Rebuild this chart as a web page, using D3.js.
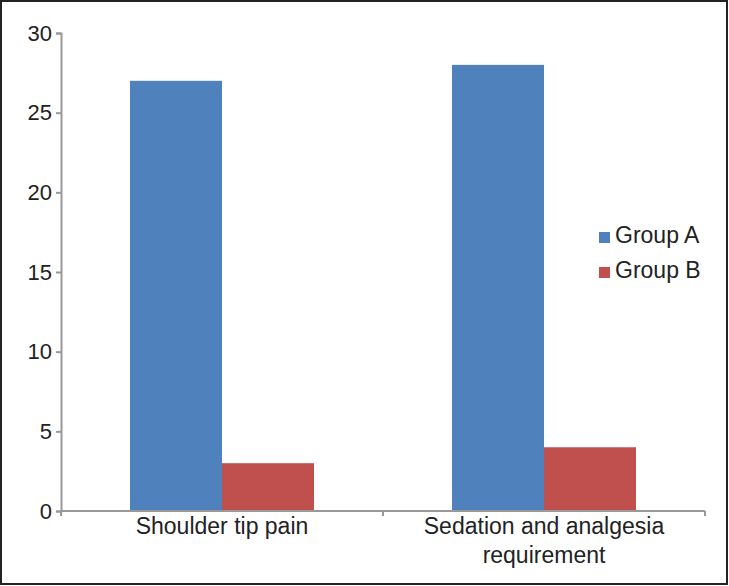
<!DOCTYPE html>
<html><head><meta charset="utf-8">
<script src="https://cdn.jsdelivr.net/npm/d3@7"></script>
<style>body{margin:0;background:#fff}svg{display:block}</style>
</head><body>
<svg id="c" width="729" height="586"></svg>
<script>
const categories = ["Shoulder tip pain", "Sedation and analgesia requirement"];
const categoryLines = [["Shoulder tip pain"], ["Sedation and analgesia", "requirement"]];
const seriesNames = ["Group A", "Group B"];
const groupA = [27, 28];
const groupB = [3, 4];
const yTicks = [0, 5, 10, 15, 20, 25, 30];
const colors = ["#4F81BD", "#C0504D"];

const svg = d3.select("#c");
const font = "Liberation Sans, Arial, sans-serif";
svg.append("rect").attr("x",1).attr("y",1).attr("width",726).attr("height",583)
  .attr("fill","#fff").attr("stroke","#222").attr("stroke-width",2);

const x0 = d3.scaleBand().domain(categories).range([61, 705]).paddingInner(0).paddingOuter(0);
const x1 = d3.scaleBand().domain(seriesNames).range([0, x0.bandwidth()]).paddingInner(0).paddingOuter(0.75);
const y = d3.scaleLinear().domain([0, 30]).range([511, 33]);

const series = [groupA, groupB];
const data = categories.map((c, i) => ({c, vals: seriesNames.map((s, j) => ({s, v: series[j][i], j}))}));

const g = svg.append("g");
g.selectAll("g.cat").data(data).join("g").attr("class","cat")
  .attr("transform", d => `translate(${x0(d.c)},0)`)
  .selectAll("rect").data(d => d.vals).join("rect")
  .attr("x", d => x1(d.s)).attr("width", x1.bandwidth())
  .attr("y", d => y(d.v)).attr("height", d => y(0) - y(d.v))
  .attr("fill", d => colors[d.j]);

// Y axis
const axisColor = "#999";
const yAxis = svg.append("g").attr("transform","translate(61,0)")
  .call(d3.axisLeft(y).tickValues(yTicks).tickSize(5).tickPadding(4));
yAxis.select(".domain").attr("stroke", axisColor).attr("stroke-width", 2);
yAxis.selectAll(".tick line").attr("stroke", axisColor).attr("stroke-width", 2);
yAxis.selectAll(".tick text").attr("font-family", font).attr("font-size", 22).attr("fill", "#222").attr("dy","0.33em");

// X axis
const xAxisG = svg.append("g").attr("transform", `translate(0,${y(0)})`);
xAxisG.append("line").attr("x1",61).attr("x2",705).attr("y1",0).attr("y2",0)
  .attr("stroke", axisColor).attr("stroke-width", 2);
const edges = [x0.range()[0], ...categories.map(c => x0(c) + x0.bandwidth())];
xAxisG.selectAll("line.tk").data(edges).join("line").attr("class","tk")
  .attr("x1", d => d).attr("x2", d => d).attr("y1", 0).attr("y2", 5)
  .attr("stroke", axisColor).attr("stroke-width", 2);
xAxisG.selectAll("text").data(categories).join("text")
  .attr("x", d => x0(d) + x0.bandwidth()/2)
  .attr("text-anchor","middle").attr("font-family", font).attr("font-size", 23).attr("fill","#222")
  .each(function(d, i){
    const t = d3.select(this);
    categoryLines[i].forEach((ln, k) => {
      t.append("tspan").attr("x", x0(d) + x0.bandwidth()/2).attr("y", 23 + k*29).text(ln);
    });
  });

// Legend
const leg = svg.append("g").attr("transform","translate(599,232)");
const li = leg.selectAll("g").data(seriesNames).join("g").attr("transform",(d,i)=>`translate(0,${i*35})`);
li.append("rect").attr("width",11).attr("height",11).attr("fill",(d,i)=>colors[i]);
li.append("text").attr("x",16).attr("y",11).attr("font-family",font).attr("font-size",23).attr("fill","#222").text(d=>d);
</script>
</body></html>
